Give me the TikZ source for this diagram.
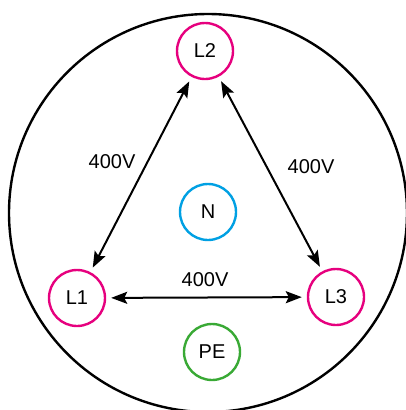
\documentclass[tikz,border=0pt]{standalone}
\usepackage{fontspec}
\setmainfont{Liberation Sans}
\usetikzlibrary{arrows.meta}
\definecolor{phasepink}{RGB}{230,0,126}
\definecolor{neutralblue}{RGB}{0,160,227}
\definecolor{earthgreen}{RGB}{57,169,53}

\begin{document}
\begin{tikzpicture}[x=1pt, y=-1pt, >={Stealth[length=16pt,width=12pt,inset=3pt]},
  font=\fontsize{20}{24}\selectfont,
  conductor/.style={circle, draw, line width=2.4pt, minimum size=56pt, inner sep=0pt},
  volt/.style={<->, line width=2pt, shorten <=5pt, shorten >=5pt}]
  \useasboundingbox (0,0) rectangle (405,410);

  \node[circle, draw, line width=2.4pt, minimum size=398pt, inner sep=0pt] (outer) at (208,213) {};

  \node[conductor, phasepink] (L2) at (205,51) {\textcolor{black}{L2}};
  \node[conductor, phasepink] (L1) at (77,298) {\textcolor{black}{L1}};
  \node[conductor, phasepink] (L3) at (336,297) {\textcolor{black}{L3}};
  \node[conductor, neutralblue] (N) at (208,212) {\textcolor{black}{N}};
  \node[conductor, earthgreen] (PE) at (212,352) {\textcolor{black}{PE}};

  \draw[volt] (L1) -- (L2);
  \draw[volt] (L2) -- (L3);
  \draw[volt] (L1) -- (L3);

  \node (v12) at (112,162) {400V};
  \node (v23) at (311,167) {400V};
  \node (v13) at (205,280) {400V};
\end{tikzpicture}
\end{document}
